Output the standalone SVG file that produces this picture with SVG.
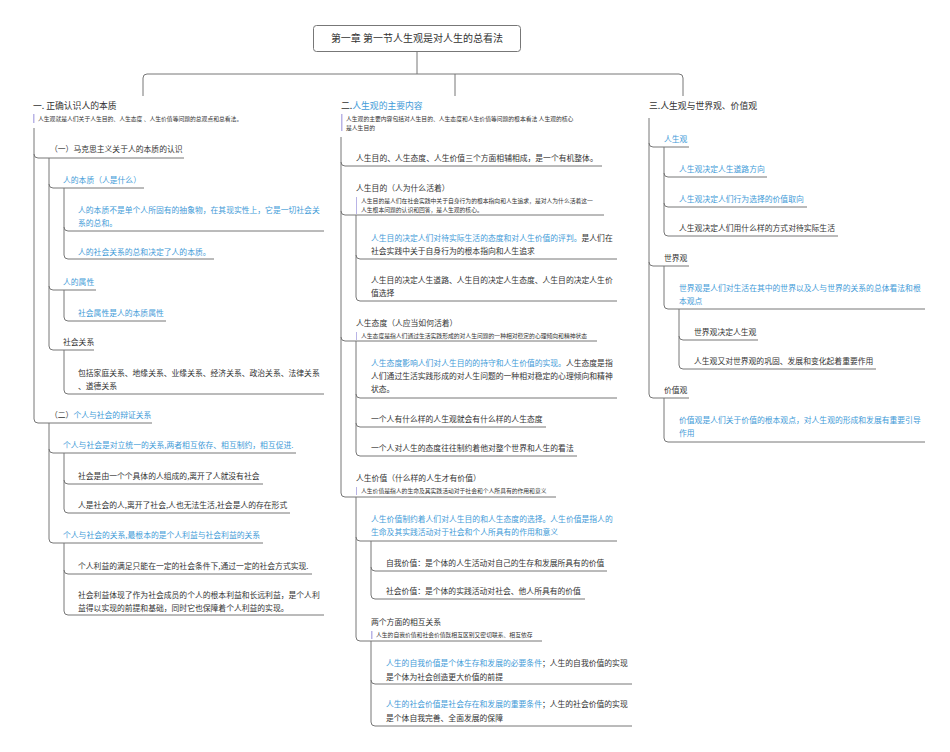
<svg xmlns="http://www.w3.org/2000/svg" width="950" height="752" viewBox="0 0 950 752">
<style>
text{font-family:"Noto Sans CJK SC","Noto Sans",sans-serif;fill:#333;font-size:7.8px}
.b{fill:#3f9bd8}
.h{font-size:8.8px}
.r{font-size:10px}
.n{font-size:5.8px;fill:#333}
.bar{fill:#b9b4e6}
#connectors path{fill:none;stroke:#777;stroke-width:1}
</style>
<rect width="950" height="752" fill="#fff"/>
<g id="connectors">
<path d="M417,51 V74 M147,74 H679 M143,96 V78 Q143,74 147,74 M679,74 Q683,74 683,78 V96 M455,74 V96"/>
<path d="M34,128 V419"/>
<path d="M34,154 Q34,158 38,158 H184"/>
<path d="M34,419 Q34,423 38,423 H152"/>
<path d="M49,158 V346"/>
<path d="M49,184 Q49,188 53,188 H144"/>
<path d="M49,286 Q49,290 53,290 H96"/>
<path d="M49,346 Q49,350 53,350 H94"/>
<path d="M64,188 V255"/>
<path d="M64,227 Q64,231 68,231 H324"/>
<path d="M64,255 Q64,259 68,259 H214"/>
<path d="M64,290 V317 Q64,321 68,321 H166"/>
<path d="M64,350 V390 Q64,394 68,394 H324"/>
<path d="M49,423 V539"/>
<path d="M49,449 Q49,453 53,453 H296"/>
<path d="M49,539 Q49,543 53,543 H263"/>
<path d="M64,453 V509"/>
<path d="M64,480 Q64,484 68,484 H263"/>
<path d="M64,509 Q64,513 68,513 H290"/>
<path d="M64,543 V611"/>
<path d="M64,570 Q64,574 68,574 H312"/>
<path d="M64,611 Q64,615 68,615 H324"/>
<path d="M341,137 V493"/>
<path d="M341,162 Q341,166 345,166 H602"/>
<path d="M341,211 Q341,215 345,215 H604"/>
<path d="M341,337 Q341,341 345,341 H597"/>
<path d="M341,493 Q341,497 345,497 H556"/>
<path d="M356,215 V297"/>
<path d="M356,255 Q356,259 360,259 H617"/>
<path d="M356,297 Q356,301 360,301 H617"/>
<path d="M356,341 V452"/>
<path d="M356,394 Q356,398 360,398 H617"/>
<path d="M356,423 Q356,427 360,427 H546"/>
<path d="M356,452 Q356,456 360,456 H577"/>
<path d="M356,497 V637"/>
<path d="M356,537 Q356,541 360,541 H617"/>
<path d="M356,637 Q356,641 360,641 H542"/>
<path d="M371,541 V595"/>
<path d="M371,567 Q371,571 375,571 H607"/>
<path d="M371,595 Q371,599 375,599 H585"/>
<path d="M371,641 V722"/>
<path d="M371,680 Q371,684 375,684 H632"/>
<path d="M371,722 Q371,726 375,726 H632"/>
<path d="M649,118 V394"/>
<path d="M649,143 Q649,147 653,147 H689"/>
<path d="M649,262 Q649,266 653,266 H689"/>
<path d="M649,394 Q649,398 653,398 H689"/>
<path d="M664,147 V232"/>
<path d="M664,173 Q664,177 668,177 H767"/>
<path d="M664,203 Q664,207 668,207 H807"/>
<path d="M664,232 Q664,236 668,236 H838"/>
<path d="M664,266 V305 Q664,309 668,309 H925"/>
<path d="M679,309 V365"/>
<path d="M679,336 Q679,340 683,340 H758"/>
<path d="M679,365 Q679,369 683,369 H876"/>
<path d="M664,398 V438 Q664,442 668,442 H925"/>
</g>

<g id="root">
<rect x="313.5" y="25.5" width="207" height="26" rx="3" fill="#fff" stroke="#777"/>
<text class="r" x="417" y="42" text-anchor="middle">第一章 第一节人生观是对人生的总看法</text>
</g>

<g id="n1">
<text class="h" x="33" y="109">一. 正确认识人的本质</text>
<rect class="bar" x="33" y="114" width="1.5" height="9"/>
<text class="n" x="38" y="121">人生观就是人们关于人生目的、人生态度 、人生价值等问题的总观点和总看法。</text>
</g>
<g id="n1-1"><text x="50" y="152">（一）马克思主义关于人的本质的认识</text></g>
<g id="n1-1-1"><text class="b" x="63" y="183">人的本质（人是什么）</text></g>
<g id="n1-1-1a"><text class="b" x="78" y="213">人的本质不是单个人所固有的抽象物，在其现实性上，它是一切社会关</text><text class="b" x="78" y="226">系的总和。</text></g>
<g id="n1-1-1b"><text class="b" x="78" y="255">人的社会关系的总和决定了人的本质。</text></g>
<g id="n1-1-2"><text class="b" x="63" y="285">人的属性</text></g>
<g id="n1-1-2a"><text class="b" x="78" y="316">社会属性是人的本质属性</text></g>
<g id="n1-1-3"><text x="63" y="345">社会关系</text></g>
<g id="n1-1-3a"><text x="78" y="376">包括家庭关系、地缘关系、业缘关系、经济关系、政治关系、法律关系</text><text x="78" y="389">、道德关系</text></g>
<g id="n1-2"><text x="50" y="418">（二）<tspan class="b">个人与社会的辩证关系</tspan></text></g>
<g id="n1-2-1"><text class="b" x="63" y="448">个人与社会是对立统一的关系,两者相互依存、相互制约，相互促进.</text></g>
<g id="n1-2-1a"><text x="78" y="479">社会是由一个个具体的人组成的,离开了人就没有社会</text></g>
<g id="n1-2-1b"><text x="78" y="508">人是社会的人,离开了社会,人也无法生活,社会是人的存在形式</text></g>
<g id="n1-2-2"><text class="b" x="63" y="538">个人与社会的关系,最根本的是个人利益与社会利益的关系</text></g>
<g id="n1-2-2a"><text x="78" y="569">个人利益的满足只能在一定的社会条件下,通过一定的社会方式实现.</text></g>
<g id="n1-2-2b"><text x="78" y="598">社会利益体现了作为社会成员的个人的根本利益和长远利益，是个人利</text><text x="78" y="611">益得以实现的前提和基础，同时它也保障着个人利益的实现。</text></g>

<g id="n2">
<text class="h" x="341" y="109">二.<tspan class="b">人生观的主要内容</tspan></text>
<rect class="bar" x="341" y="114" width="1.5" height="17"/>
<text class="n" x="346" y="121">人生观的主要内容包括对人生目的、人生态度和人生价值等问题的根本看法   人生观的核心</text>
<text class="n" x="346" y="130">是人生目的</text>
</g>
<g id="n2-1"><text x="356" y="161">人生目的、人生态度、人生价值三个方面相辅相成，是一个有机整体。</text></g>
<g id="n2-2">
<text x="356" y="191">人生目的（人为什么活着）</text>
<rect class="bar" x="356" y="197" width="1" height="17"/>
<text class="n" x="361" y="203">人生目的是人们在社会实践中关于自身行为的根本指向和人生追求，是对人为什么活着这一</text>
<text class="n" x="361" y="212">人生根本问题的认识和回答，是人生观的核心。</text>
</g>
<g id="n2-2a"><text x="371" y="241"><tspan class="b">人生目的决定人们对待实际生活的态度和对人生价值的评判。</tspan>是人们在</text><text x="371" y="254">社会实践中关于自身行为的根本指向和人生追求</text></g>
<g id="n2-2b"><text x="371" y="283">人生目的决定人生道路、人生目的决定人生态度、人生目的决定人生价</text><text x="371" y="296">值选择</text></g>
<g id="n2-3">
<text x="356" y="326">人生态度（人应当如何活着）</text>
<rect class="bar" x="356" y="332" width="1" height="8"/>
<text class="n" x="361" y="338">人生态度是指人们通过生活实践形成的对人生问题的一种相对稳定的心理倾向和精神状态</text>
</g>
<g id="n2-3a"><text x="371" y="366"><tspan class="b">人生态度影响人们对人生目的的持守和人生价值的实现。</tspan>人生态度是指</text><text x="371" y="379">人们通过生活实践形成的对人生问题的一种相对稳定的心理倾向和精神</text><text x="371" y="392">状态。</text></g>
<g id="n2-3b"><text x="371" y="422">一个人有什么样的人生观就会有什么样的人生态度</text></g>
<g id="n2-3c"><text x="371" y="451">一个人对人生的态度往往制约着他对整个世界和人生的看法</text></g>
<g id="n2-4">
<text x="356" y="481">人生价值（什么样的人生才有价值）</text>
<rect class="bar" x="356" y="487" width="1" height="8"/>
<text class="n" x="361" y="493">人生价值是指人的生命及其实践活动对于社会和个人所具有的作用和意义</text>
</g>
<g id="n2-4a"><text class="b" x="371" y="522">人生价值制约着人们对人生目的和人生态度的选择。人生价值是指人的</text><text class="b" x="371" y="535">生命及其实践活动对于社会和个人所具有的作用和意义</text></g>
<g id="n2-4a1"><text x="386" y="566">自我价值：是个体的人生活动对自己的生存和发展所具有的价值</text></g>
<g id="n2-4a2"><text x="386" y="594">社会价值：是个体的实践活动对社会、他人所具有的价值</text></g>
<g id="n2-4b">
<text x="371" y="625">两个方面的相互关系</text>
<rect class="bar" x="371" y="631" width="1.5" height="8"/>
<text class="n" x="376" y="637">人生的自我价值和社会价值既相互区别又密切联系、相互依存</text>
</g>
<g id="n2-4b1"><text x="386" y="666"><tspan class="b">人生的自我价值是个体生存和发展的必要条件</tspan>；人生的自我价值的实现</text><text x="386" y="680">是个体为社会创造更大价值的前提</text></g>
<g id="n2-4b2"><text x="386" y="707"><tspan class="b">人生的社会价值是社会存在和发展的重要条件</tspan>；人生的社会价值的实现</text><text x="386" y="721">是个体自我完善、全面发展的保障</text></g>

<g id="n3"><text class="h" x="649" y="109">三.人生观与世界观、价值观</text></g>
<g id="n3-1"><text class="b" x="664" y="142">人生观</text></g>
<g id="n3-1a"><text class="b" x="679" y="172">人生观决定人生道路方向</text></g>
<g id="n3-1b"><text class="b" x="679" y="202">人生观决定人们行为选择的价值取向</text></g>
<g id="n3-1c"><text x="679" y="231">人生观决定人们用什么样的方式对待实际生活</text></g>
<g id="n3-2"><text x="664" y="261">世界观</text></g>
<g id="n3-2a"><text class="b" x="679" y="291">世界观是人们对生活在其中的世界以及人与世界的关系的总体看法和根</text><text class="b" x="679" y="304">本观点</text></g>
<g id="n3-2b"><text x="694" y="335">世界观决定人生观</text></g>
<g id="n3-2c"><text x="694" y="364">人生观又对世界观的巩固、发展和变化起着重要作用</text></g>
<g id="n3-3"><text x="664" y="393">价值观</text></g>
<g id="n3-3a"><text class="b" x="679" y="423">价值观是人们关于价值的根本观点，对人生观的形成和发展有重要引导</text><text class="b" x="679" y="436">作用</text></g>
</svg>
